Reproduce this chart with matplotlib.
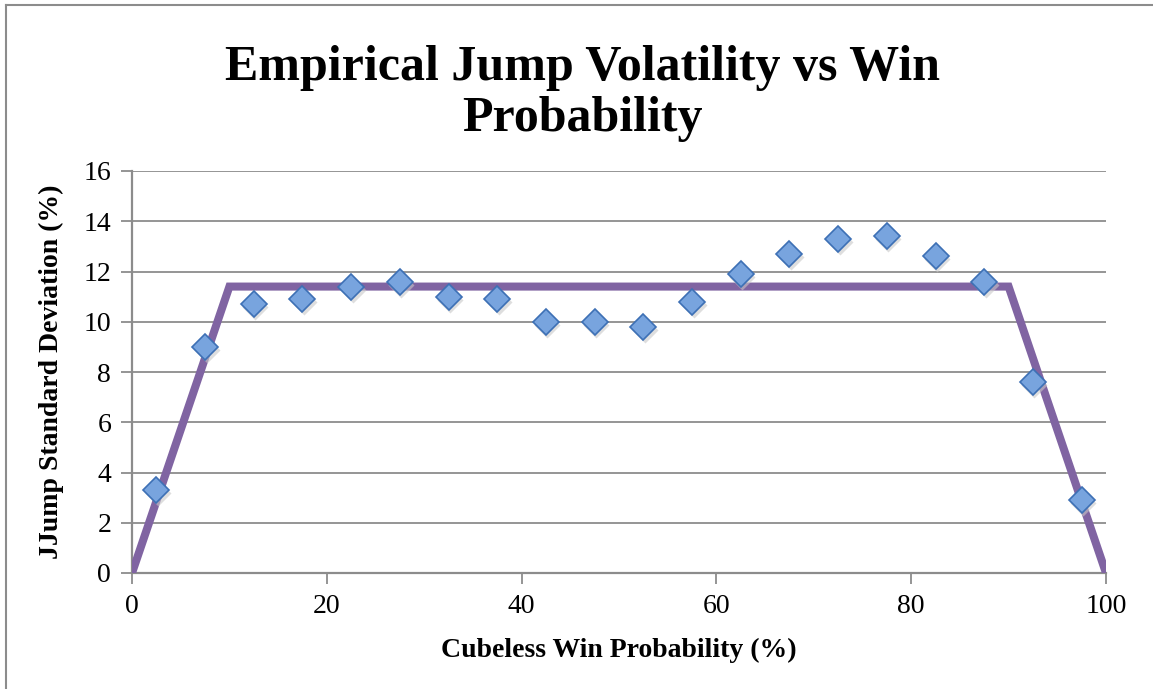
import numpy as np
import matplotlib.pyplot as plt
from matplotlib.transforms import ScaledTranslation
from matplotlib.lines import Line2D

# bin centres and measured jump std dev
win_prob = [2.5, 7.5, 12.5, 17.5, 22.5, 27.5, 32.5, 37.5, 42.5, 47.5,
            52.5, 57.5, 62.5, 67.5, 72.5, 77.5, 82.5, 87.5, 92.5, 97.5]
jump_sd = [3.3, 9.0, 10.7, 10.9, 11.4, 11.6, 11.0, 10.9, 10.0, 10.0,
           9.8, 10.8, 11.9, 12.7, 13.3, 13.4, 12.6, 11.6, 7.6, 2.9]

# piecewise model line
model_x = [0, 10, 90, 100]
model_y = [0, 11.4, 11.4, 0]

x_ticks = [0, 20, 40, 60, 80, 100]
y_ticks = [0, 2, 4, 6, 8, 10, 12, 14, 16]

serif = ['Liberation Serif', 'DejaVu Serif']
grid_col = '#8c8c8c'

fig = plt.figure(figsize=(11.53, 6.89), dpi=100)
ax = fig.add_axes([132 / 1153, 1 - 573 / 689, (1106 - 132) / 1153, (573 - 171) / 689])

ax.plot(model_x, model_y, color='#8064A2', lw=5.8, solid_joinstyle='miter',
        solid_capstyle='butt', zorder=3)
# soft shadow under markers
shadow = ax.transData + ScaledTranslation(1.5 / 100, -3 / 100, fig.dpi_scale_trans)
ax.plot(win_prob, jump_sd, ls='none', marker='D', ms=13.5, color='#c8c8c8',
        mec='none', alpha=0.6, zorder=3.5, transform=shadow)
ax.plot(win_prob, jump_sd, ls='none', marker='D', ms=13.5, mfc='#78a4de',
        mec='#3d70b5', mew=1.2, zorder=4)

ax.set_xlim(0, 100)
ax.set_ylim(0, 16)
ax.set_xticks(x_ticks)
ax.set_yticks(y_ticks)
ax.set_xticklabels([str(v) for v in x_ticks], family=serif, fontsize=20)
ax.set_yticklabels([str(v) for v in y_ticks], family=serif, fontsize=20)
ax.grid(axis='y', color=grid_col, lw=1.3)
ax.set_axisbelow(True)
for s in ['top', 'right']:
    ax.spines[s].set_visible(False)
for s in ['left', 'bottom']:
    ax.spines[s].set_color(grid_col)
    ax.spines[s].set_linewidth(1.6)
ax.tick_params(axis='both', direction='out', length=8, width=1.3, color=grid_col, pad=7)

ax.set_xlabel('Cubeless Win Probability (%)', family=serif, fontsize=20,
              fontweight='bold', labelpad=14)
ax.set_ylabel('JJump Standard Deviation (%)', family=serif, fontsize=20,
              fontweight='bold', labelpad=14)

fig.text(0.505, 0.935, 'Empirical Jump Volatility vs Win\nProbability', ha='center', va='top',
         family=serif, fontsize=36, fontweight='bold', linespacing=1.15)

# outer frame (left and top edges)
fy = 1 - 5 / 689
fx = 6 / 1153
fig.add_artist(Line2D([fx, fx], [0, fy], transform=fig.transFigure, color=grid_col, lw=1.5))
fig.add_artist(Line2D([fx, 1], [fy, fy], transform=fig.transFigure, color=grid_col, lw=1.5))

fig.savefig('out.png', dpi=100)
